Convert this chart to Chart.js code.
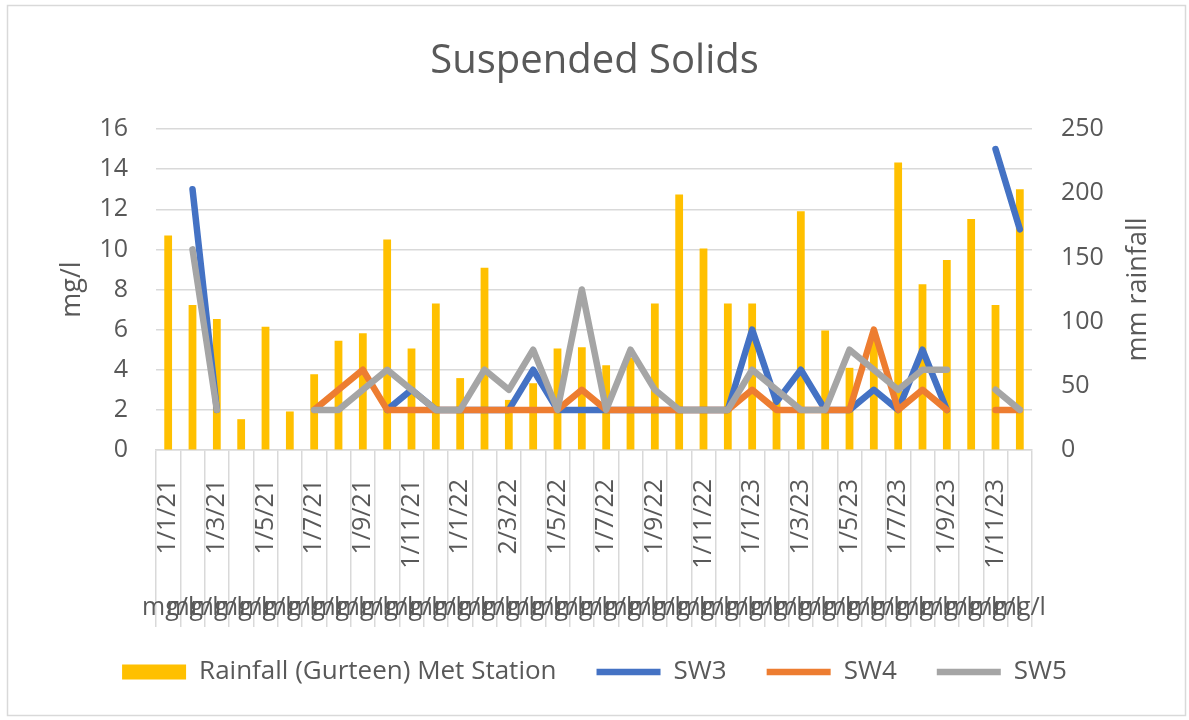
<!DOCTYPE html>
<html>
<head>
<meta charset="utf-8">
<script src="https://cdn.jsdelivr.net/npm/chart.js@4/dist/chart.umd.min.js"></script>
<style>
  html, body { margin: 0; padding: 0; background: #ffffff; }
  #wrap { width: 1189px; height: 720px; }
</style>
</head>
<body>
<div id="wrap"><canvas id="c" width="1189" height="720"></canvas></div>
<script>
// ---- data ----
const categories = [
  '1/1/21','1/2/21','1/3/21','1/4/21','1/5/21','1/6/21','1/7/21','1/8/21','1/9/21','1/10/21','1/11/21','1/12/21',
  '1/1/22','1/2/22','2/3/22','1/4/22','1/5/22','1/6/22','1/7/22','1/8/22','1/9/22','1/10/22','1/11/22','1/12/22',
  '1/1/23','1/2/23','1/3/23','1/4/23','1/5/23','1/6/23','1/7/23','1/8/23','1/9/23','1/10/23','1/11/23','1/12/23'
];
const unitLabel = 'mg/l';
const rainfall = [167,113,102,24,96,30,59,85,91,164,79,114, 56,142,39,52,79,80,66,72,114,199,157,114, 114,42,186,93,64,90,224,129,148,180,113,203];
const sw3 = [null,13,2,null,null,null,null,null,null,2,3,2, 2,2,2,4,2,2,2,2,2,2,2,2, 6,2.4,4,2,2,3,2,5,2,null,15,11];
const sw4 = [null,null,null,null,null,null,2,3,4,2,2,2, 2,2,2,2,2,3,2,2,2,2,2,2, 3,2,2,2,2,6,2,3,2,null,2,2];
const sw5 = [null,10,2,null,null,null,2,2,3,4,3,2, 2,4,3,5,2,8,2,5,3,2,2,2, 4,3,2,2,5,4,3,4,4,null,3,2];
const leftTicks = { min: 0, max: 16, step: 2 };
const rightTicks = { min: 0, max: 250, step: 50 };

const TXT = '#595959';
const GRID = '#D9D9D9';
const FONT = "'Open Sans', 'Noto Sans', sans-serif";

const extrasPlugin = {
  id: 'extras',
  beforeDraw(chart) {
    const ctx = chart.ctx;
    ctx.save();
    ctx.fillStyle = '#ffffff';
    ctx.fillRect(0, 0, chart.width, chart.height);
    ctx.strokeStyle = GRID;
    ctx.lineWidth = 1.5;
    ctx.strokeRect(7.5, 5.5, 1178, 710);
    ctx.restore();
  },
  afterDraw(chart) {
    const ctx = chart.ctx;
    const xs = chart.scales.x;
    const area = chart.chartArea;
    ctx.save();
    ctx.fillStyle = TXT;
    ctx.font = "25px " + FONT;
    ctx.textAlign = 'center';
    ctx.textBaseline = 'middle';
    for (let i = 0; i < categories.length; i++) {
      ctx.fillText(unitLabel, xs.getPixelForValue(i), 608);
    }
    // right axis title (reads bottom-to-top)
    ctx.font = "27px " + FONT;
    ctx.translate(1138, (area.top + area.bottom) / 2);
    ctx.rotate(-Math.PI / 2);
    ctx.fillText('mm rainfall', 0, 0);
    ctx.restore();
  }
};

const lineDs = (label, data, color, order) => ({
  type: 'line', label, data, yAxisID: 'y', order,
  borderColor: color, backgroundColor: color,
  borderWidth: 6.5, borderJoinStyle: 'round', borderCapStyle: 'round',
  pointRadius: 0, pointHoverRadius: 0, pointStyle: 'line',
  tension: 0, spanGaps: false, fill: false
});

new Chart(document.getElementById('c'), {
  type: 'bar',
  data: {
    labels: categories,
    datasets: [
      { type: 'bar', label: 'Rainfall (Gurteen) Met Station', data: rainfall, yAxisID: 'y1', order: 3,
        backgroundColor: '#FFC000', borderWidth: 0, pointStyle: 'rect',
        barPercentage: 0.32, categoryPercentage: 1.0 },
      lineDs('SW3', sw3, '#4472C4', 2),
      lineDs('SW4', sw4, '#ED7D31', 1),
      lineDs('SW5', sw5, '#A5A5A5', 0)
    ]
  },
  options: {
    responsive: false,
    devicePixelRatio: 1,
    animation: false,
    layout: { padding: { left: 0, right: 0, top: 0, bottom: 25 } },
    plugins: {
      title: {
        display: true, text: 'Suspended Solids', color: TXT,
        font: { family: FONT, size: 40, weight: '400' },
        padding: { top: 38, bottom: 43 }
      },
      legend: {
        position: 'bottom',
        labels: {
          color: TXT, font: { family: FONT, size: 26 },
          usePointStyle: true, pointStyleWidth: 64, boxHeight: 15,
          padding: 40,
          sort: (a, b) => a.datasetIndex - b.datasetIndex
        }
      },
      tooltip: { enabled: false }
    },
    scales: {
      x: {
        offset: true,
        grid: { offset: true, drawOnChartArea: false, drawTicks: true, tickLength: 177,
                color: GRID, tickColor: GRID, lineWidth: 1.5, tickWidth: 1.5 },
        border: { display: true, color: GRID, width: 1.5 },
        ticks: {
          color: TXT, font: { family: FONT, size: 25 },
          autoSkip: false, minRotation: 90, maxRotation: 90, padding: -148,
          callback: function(v, i) { return i % 2 === 0 ? categories[i] : ''; }
        },
        afterFit: (s) => { s.height = 169; }
      },
      y: {
        position: 'left', min: leftTicks.min, max: leftTicks.max,
        ticks: { stepSize: leftTicks.step, color: TXT, font: { family: FONT, size: 25 }, padding: 28 },
        grid: { color: GRID, lineWidth: 1.5, drawTicks: false },
        border: { display: false },
        title: { display: true, text: 'mg/l', color: TXT, font: { family: FONT, size: 27 }, padding: { top: 56 } },
        afterFit: (s) => { s.width = 156; }
      },
      y1: {
        position: 'right', min: rightTicks.min, max: rightTicks.max,
        ticks: { stepSize: rightTicks.step, color: TXT, font: { family: FONT, size: 25 }, padding: 29 },
        grid: { drawOnChartArea: false, drawTicks: false },
        border: { display: false },
        afterFit: (s) => { s.width = 157; }
      }
    }
  },
  plugins: [extrasPlugin]
});
</script>
</body>
</html>
